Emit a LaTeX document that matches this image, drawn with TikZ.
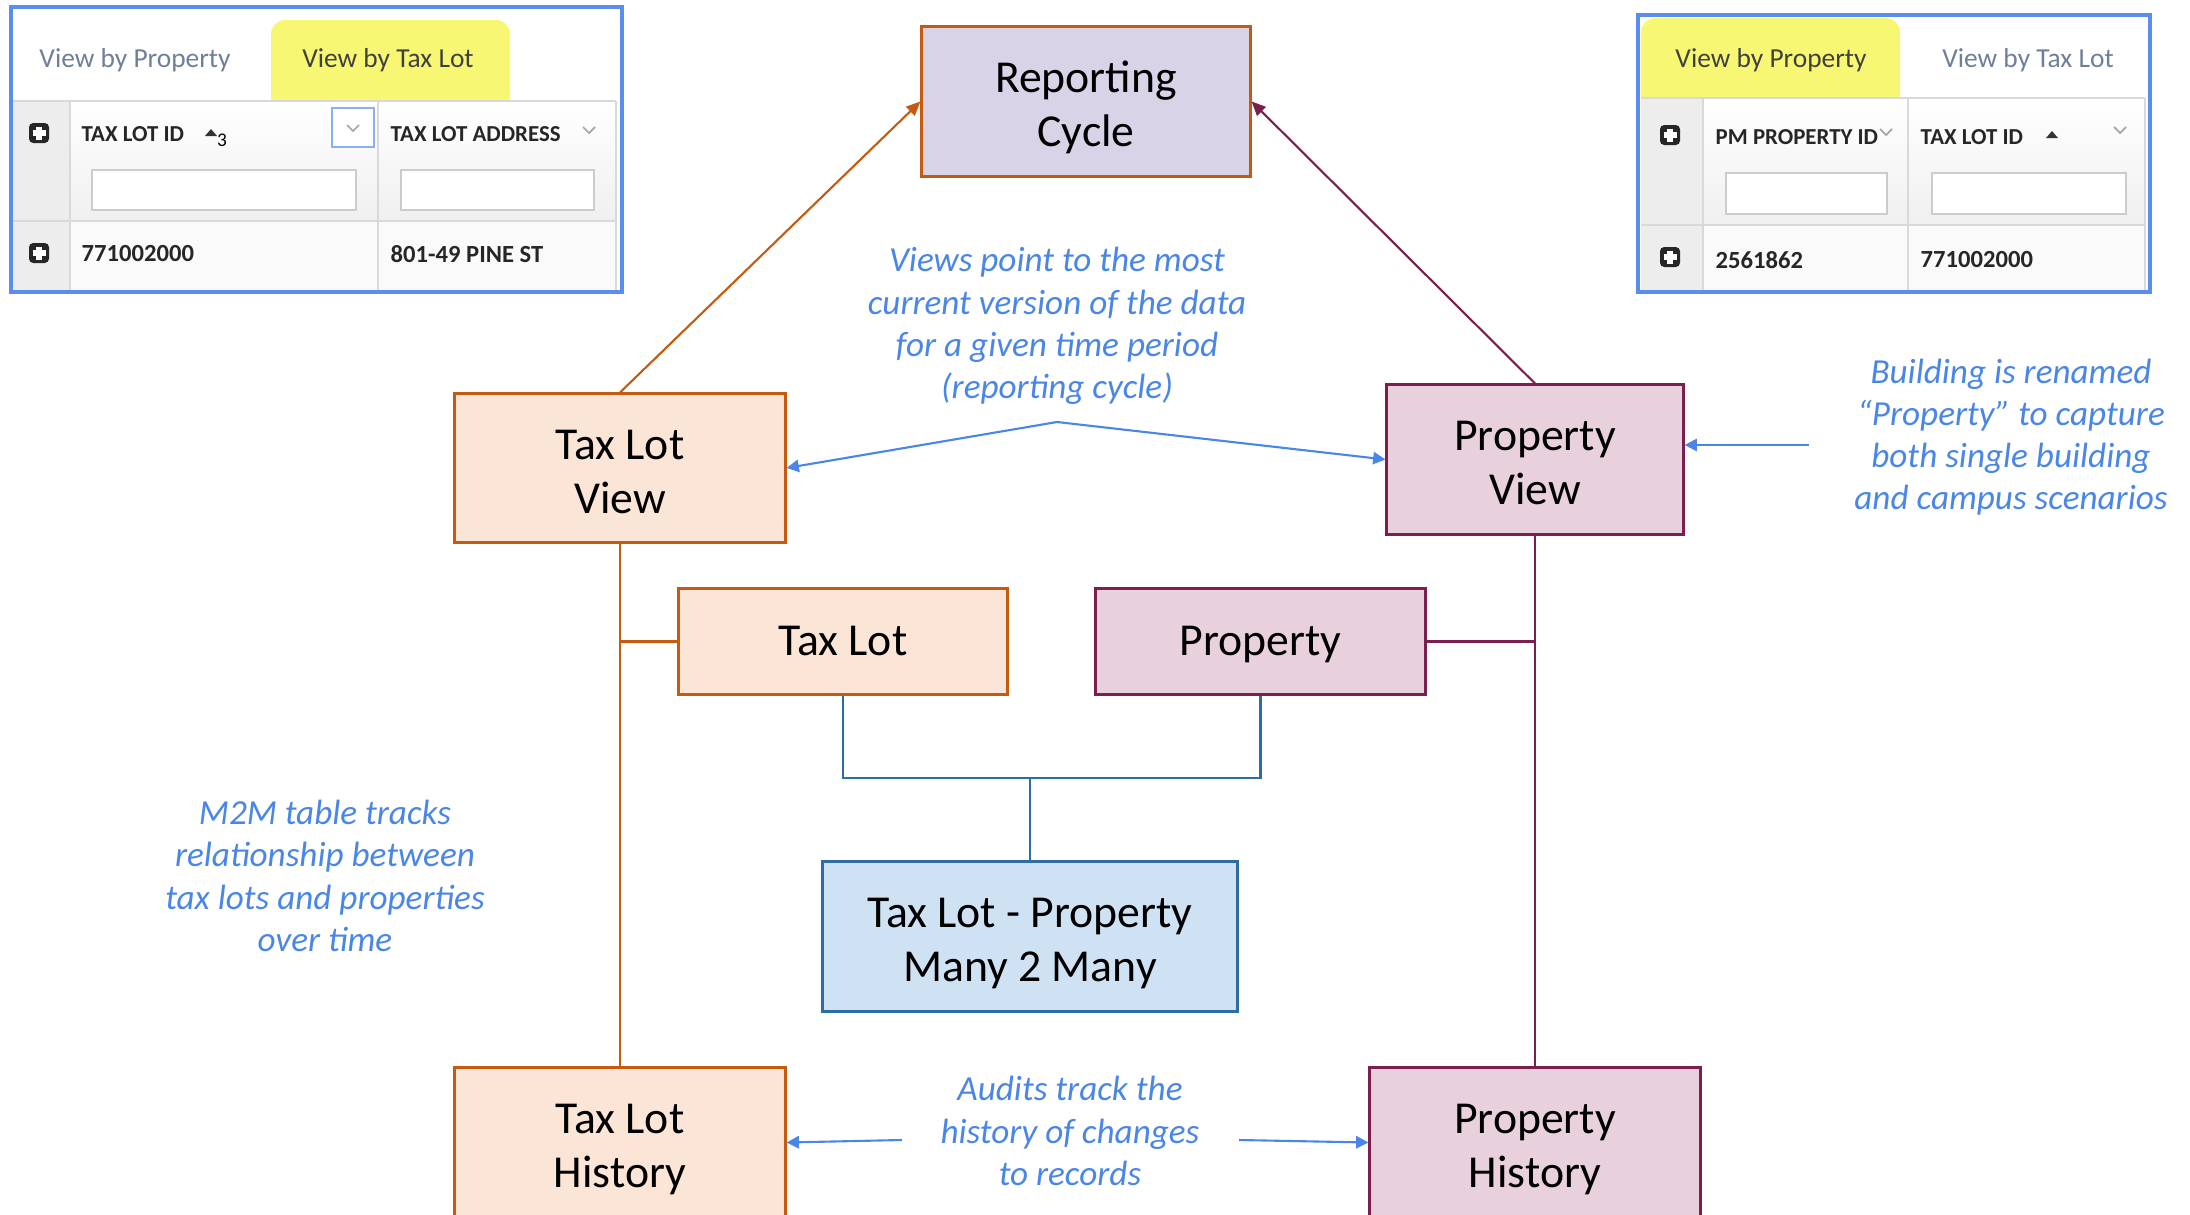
\documentclass[tikz,border=0pt]{standalone}
\usepackage{fontspec}
\setmainfont{Carlito}
\usepackage{tikz}
\usetikzlibrary{arrows.meta}

\definecolor{lotline}{HTML}{C55A11}
\definecolor{lotfill}{HTML}{FBE5D6}
\definecolor{propline}{HTML}{7A1F4E}
\definecolor{propfill}{HTML}{E8D1DC}
\definecolor{cyclefill}{HTML}{D9D3E8}
\definecolor{linkline}{HTML}{2E6CA4}
\definecolor{linkfill}{HTML}{CFE2F3}
\definecolor{notecolor}{HTML}{4A86E8}
\definecolor{shotframe}{HTML}{5A8DEE}
\definecolor{tabtext}{HTML}{6E7F99}
\definecolor{tabyellow}{HTML}{F7F774}

\newcommand{\tallstrut}{\rule{0pt}{13.7pt}}

\tikzset{
  entity/.style={draw, line width=0.85pt, align=center, inner sep=0pt,
    font=\fontsize{13}{15.4}\selectfont,
    execute at begin node={\rule{0pt}{11.4pt}},
    execute at end node={\rule[-3.3pt]{0pt}{0pt}}},
  lotbox/.style={entity, draw=lotline, fill=lotfill},
  propbox/.style={entity, draw=propline, fill=propfill},
  cyclebox/.style={entity, draw=lotline, fill=cyclefill},
  linkbox/.style={entity, draw=linkline, fill=linkfill},
  lotwire/.style={draw=lotline, line width=0.6pt},
  propwire/.style={draw=propline, line width=0.6pt},
  linkwire/.style={draw=linkline, line width=0.6pt},
  note/.style={align=center, text=notecolor, inner sep=0pt,
    font=\fontsize{10}{12}\selectfont\itshape},
  notearrow/.style={draw=notecolor, line width=0.6pt,
    -{Triangle[length=3.5pt,width=3.5pt]}},
  tabfont/.style={inner sep=0pt, font=\fontsize{7.8}{9}\selectfont},
  colfont/.style={inner sep=0pt, anchor=west, text=black!85,
    font=\fontsize{6.5}{8}\selectfont\bfseries},
  cellfont/.style={inner sep=0pt, anchor=west, text=black!85,
    font=\fontsize{7}{8}\selectfont\bfseries}
}

\newcommand{\plusicon}[1]{%
  \begin{scope}[shift={(#1)}]
    \fill[black!85, rounded corners=1.2pt] (-10,-10) rectangle (10,10);
    \draw[white, line width=1.6pt] (-6.5,0) -- (6.5,0) (0,-6.5) -- (0,6.5);
  \end{scope}}
\newcommand{\chevronmark}[1]{%
  \draw[gray!70, line width=0.5pt, shift={(#1)}] (-6,-3) -- (0,3) -- (6,-3);}
\newcommand{\sortup}[1]{%
  \fill[black!80, shift={(#1)}] (-6,3) -- (6,3) -- (0,-4) -- cycle;}

\begin{document}
\begin{tikzpicture}[x=0.01cm, y=-0.01cm]
  \useasboundingbox (0,0) rectangle (2190,1215);

  % screenshot: view by tax lot
  \fill[white] (11,7) rectangle (622,292);
  \shade[top color=white, bottom color=gray!12] (11,101) rectangle (616,221);
  \fill[gray!4] (11,221) rectangle (616,292);
  \fill[gray!14] (11,101) rectangle (70,292);
  \fill[tabyellow] (271,101) [rounded corners=4pt]-- (271,20) -- (510,20) [sharp corners]-- (510,101) -- cycle;
  \draw[gray!30] (11,101) -- (616,101) (11,221) -- (616,221);
  \draw[gray!30] (70,101) -- (70,292) (378,101) -- (378,292) (616,101) -- (616,292);
  \node[tabfont, text=tabtext] at (135,60) {View by Property};
  \node[tabfont, text=black!75] at (388,60) {View by Tax Lot};
  \draw[gray!40, fill=white] (92,170) rectangle (356,210);
  \draw[gray!40, fill=white] (401,170) rectangle (594,210);
  \draw[shotframe!70, fill=white] (332,108) rectangle (374,147);
  \chevronmark{353,128}
  \node[colfont] at (81,134) {TAX LOT ID};
  \sortup{211,133}
  \node[inner sep=0pt, font=\fontsize{5.5}{6}\selectfont] at (222,140) {3};
  \node[colfont] at (390,134) {TAX LOT ADDRESS};
  \chevronmark{589,130}
  \node[cellfont] at (81,254) {771002000};
  \node[cellfont] at (390,254) {801-49 PINE ST};
  \plusicon{39,133}
  \plusicon{39,253}
  \draw[shotframe, line width=0.9pt] (11,7) rectangle (622,292);

  % screenshot: view by property
  \fill[white] (1638,15) rectangle (2150,292);
  \shade[top color=white, bottom color=gray!12] (1641,98) rectangle (2145,225);
  \fill[gray!4] (1641,225) rectangle (2145,292);
  \fill[gray!14] (1641,98) rectangle (1703,292);
  \fill[tabyellow] (1641,98) [rounded corners=4pt]-- (1641,18) -- (1900,18) [sharp corners]-- (1900,98) -- cycle;
  \draw[gray!30] (1641,98) -- (2145,98) (1641,225) -- (2145,225);
  \draw[gray!30] (1703,98) -- (1703,292) (1908,98) -- (1908,292) (2145,98) -- (2145,292);
  \node[tabfont, text=black!75] at (1771,60) {View by Property};
  \node[tabfont, text=tabtext] at (2028,60) {View by Tax Lot};
  \draw[gray!40, fill=white] (1726,173) rectangle (1887,214);
  \draw[gray!40, fill=white] (1932,173) rectangle (2126,214);
  \node[colfont] at (1715,137) {PM PROPERTY ID};
  \chevronmark{1886,132}
  \node[colfont] at (1920,137) {TAX LOT ID};
  \sortup{2052,135}
  \chevronmark{2120,130}
  \node[cellfont] at (1715,260) {2561862};
  \node[cellfont] at (1920,260) {771002000};
  \plusicon{1670,135}
  \plusicon{1670,257}
  \draw[shotframe, line width=0.9pt] (1638,15) rectangle (2150,292);

  % entities
  \node[cyclebox, minimum width=3.28cm, minimum height=1.49cm] (cycle) at (1086,101.5) {\tallstrut Reporting\\Cycle};
  \node[lotbox, minimum width=3.3cm, minimum height=1.48cm] (taxlotview) at (620,468) {\tallstrut Tax Lot\\View};
  \node[propbox, minimum width=2.96cm, minimum height=1.49cm] (propview) at (1535,459.5) {\tallstrut Property\\View};
  \node[lotbox, minimum width=3.28cm, minimum height=1.05cm] (taxlot) at (843,641.5) {Tax Lot};
  \node[propbox, minimum width=3.29cm, minimum height=1.05cm] (property) at (1260.5,641.5) {Property};
  \node[linkbox, minimum width=4.14cm, minimum height=1.49cm] (manymany) at (1030,936.5) {\tallstrut Tax Lot - Property\\Many 2 Many};
  \node[lotbox, minimum width=3.3cm, minimum height=1.49cm] (taxlothist) at (620,1142.5) {\tallstrut Tax Lot\\History};
  \node[propbox, minimum width=3.3cm, minimum height=1.49cm] (prophist) at (1535,1142.5) {\tallstrut Property\\History};

  % links
  \draw[lotwire, -{Triangle[length=4pt,width=3.5pt]}] (taxlotview.north) -- (cycle.west);
  \draw[propwire, -{Triangle[length=4pt,width=3.5pt]}] (propview.north) -- (cycle.east);
  \draw[lotwire] (taxlotview.south) -- (taxlothist.north);
  \draw[lotwire] (taxlot.west) -- (taxlot.west -| taxlotview.south);
  \draw[propwire] (propview.south) -- (prophist.north);
  \draw[propwire] (property.east) -- (property.east -| propview.south);
  \coordinate (bus) at (1030,778);
  \draw[linkwire] (taxlot.south) |- (bus) -| (property.south);
  \draw[linkwire] (manymany.north) -- (bus);

  % notes
  \node[note] (viewsnote) at (1057,326) {Views point to the most\\current version of the data\\for a given time period\\(reporting cycle)};
  \coordinate (viewsfork) at (1057,422);
  \draw[notearrow] (viewsfork) -- (taxlotview.east);
  \draw[notearrow] (viewsfork) -- (propview.west);

  \node[note] (buildnote) at (2011,437) {Building is renamed\\``Property'' to capture\\both single building\\and campus scenarios};
  \coordinate (buildtail) at (1809,445);
  \draw[notearrow] (buildtail) -- (buildtail -| propview.east);

  \node[note] (m2mnote) at (325,876) {M2M table tracks\\relationship between\\tax lots and properties\\over time};

  \node[note] (auditnote) at (1070,1131) {Audits track the\\history of changes\\to records};
  \coordinate (auditleft) at (902,1140);
  \coordinate (auditright) at (1239,1140);
  \draw[notearrow] (auditleft) -- (taxlothist.east);
  \draw[notearrow] (auditright) -- (prophist.west);
\end{tikzpicture}
\end{document}
